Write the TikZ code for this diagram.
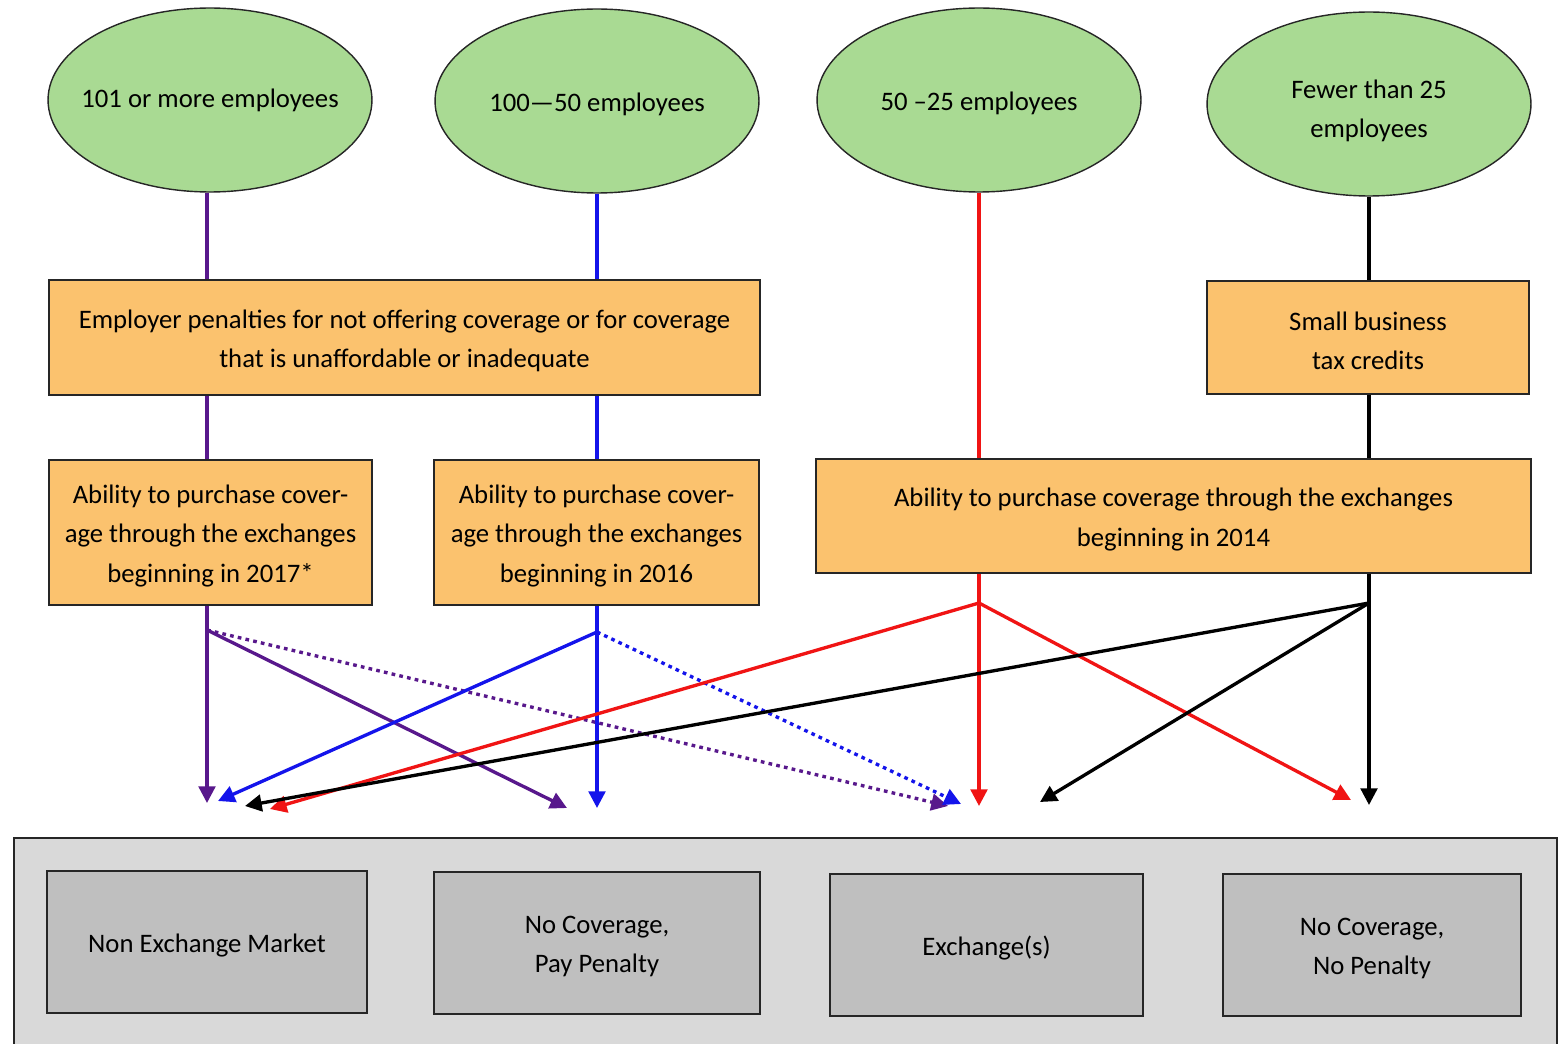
\documentclass[tikz,border=0pt]{standalone}
\usepackage{fontspec}
\setmainfont{Carlito}
\usetikzlibrary{shapes.geometric,arrows.meta}
\definecolor{sizegreen}{RGB}{169,218,147}
\definecolor{ruleorange}{RGB}{251,194,110}
\definecolor{outergray}{RGB}{217,217,217}
\definecolor{innergray}{RGB}{191,191,191}
\definecolor{lgpurple}{RGB}{88,24,140}
\definecolor{lgblue}{RGB}{20,20,235}
\definecolor{lgred}{RGB}{240,20,20}
\tikzset{
  sizeoval/.style={ellipse, draw=black!85, line width=0.8pt, fill=sizegreen,
    minimum width=6.48cm, minimum height=3.68cm, inner sep=0pt},
  rulebox/.style={rectangle, draw=black!85, line width=0.9pt, fill=ruleorange, inner sep=0pt},
  outcomebox/.style={rectangle, draw=black!85, line width=1.1pt, fill=innergray, inner sep=0pt},
  boxtext/.style={inner sep=0pt, align=center, yshift=-0.07cm,
    font=\fontsize{15.2}{22.4}\selectfont},
  flow/.style={line width=1.9pt},
  flowarrow/.style={line width=1.9pt, -{Triangle[length=9.5pt,width=9.5pt]}},
  dotflow/.style={line width=1.9pt, dash pattern=on 2.1pt off 2.4pt, -{Triangle[length=9.5pt,width=9.5pt]}},
}
\begin{document}
\begin{tikzpicture}[x=0.02cm,y=-0.02cm]
\useasboundingbox (0,0) rectangle (1562,1044);
\fill[white] (0,0) rectangle (1562,1044);

% outcome panel (open at the bottom edge)
\fill[outergray] (14,838) rectangle (1557,1044);
\draw[black!85, line width=1.1pt] (14,1044) -- (14,838) -- (1557,838) -- (1557,1044);

% employer size groups
\node[sizeoval] (e1) at (210,100) {};
\node[sizeoval] (e2) at (597,101) {};
\node[sizeoval] (e3) at (979,100) {};
\node[sizeoval] (e4) at (1369,104) {};
\node[boxtext, yshift=0.06cm] (e1t) at (e1) {101 or more employees};
\node[boxtext] (e2t) at (e2) {100---50 employees};
\node[boxtext] (e3t) at (e3) {50 --25 employees};
\node[boxtext, yshift=-0.07cm] (e4t) at (e4) {Fewer than 25\\employees};

% rules
\node[rulebox, minimum width=14.22cm, minimum height=2.30cm] (pen) at (404.5,337.5) {};
\node[boxtext] (pent) at (pen)
  {Employer penalties for not offering coverage or for coverage\\that is unaffordable or inadequate};
\node[rulebox, minimum width=6.44cm, minimum height=2.26cm] (tax) at (1368,337.5) {};
\node[boxtext] (taxt) at (tax) {Small business\\tax credits};
\node[rulebox, minimum width=6.46cm, minimum height=2.90cm] (a1) at (210.5,532.5) {};
\node[boxtext] (a1t) at (a1) {Ability to purchase cover-\\age through the exchanges\\beginning in 2017*};
\node[rulebox, minimum width=6.50cm, minimum height=2.90cm] (a2) at (596.5,532.5) {};
\node[boxtext] (a2t) at (a2) {Ability to purchase cover-\\age through the exchanges\\beginning in 2016};
\node[rulebox, minimum width=14.30cm, minimum height=2.28cm] (a3) at (1173.5,516) {};
\node[boxtext] (a3t) at (a3) {Ability to purchase coverage through the exchanges\\beginning in 2014};

% outcomes
\node[outcomebox, minimum width=6.40cm, minimum height=2.84cm] (o1) at (207,942) {};
\node[boxtext] (o1t) at (o1) {Non Exchange Market};
\node[outcomebox, minimum width=6.52cm, minimum height=2.84cm] (o2) at (597,943) {};
\node[boxtext] (o2t) at (o2) {No Coverage,\\Pay Penalty};
\node[outcomebox, minimum width=6.26cm, minimum height=2.84cm] (o3) at (986.5,945) {};
\node[boxtext] (o3t) at (o3) {Exchange(s)};
\node[outcomebox, minimum width=5.96cm, minimum height=2.84cm] (o4) at (1372,945) {};
\node[boxtext] (o4t) at (o4) {No Coverage,\\No Penalty};

% branch points
\coordinate (b1) at (207,630);
\coordinate (b2) at (597,632);
\coordinate (b3) at (979,603);
\coordinate (b4) at (1369,603);

% arrow ends above the outcome panel
\coordinate (p1) at (207,803);
\coordinate (p2) at (567,808);
\coordinate (p3) at (948,806);
\coordinate (q1) at (597,808);
\coordinate (q2) at (218,801);
\coordinate (q3) at (961,804);
\coordinate (r1) at (979,806);
\coordinate (r2) at (270,809);
\coordinate (r3) at (1351,800);
\coordinate (k1) at (1369,805);
\coordinate (k2) at (245,806);
\coordinate (k3) at (1040,802);

% 101 or more
\draw[flow, lgpurple] (e1.south -| b1) -- (pen.north -| b1);
\draw[flow, lgpurple] (pen.south -| b1) -- (a1.north -| b1);
\draw[flowarrow, lgpurple] (a1.south -| b1) -- (p1);
\draw[flowarrow, lgpurple] (b1) -- (p2);
\draw[dotflow, lgpurple] (b1) -- (p3);

% 100-50
\draw[flow, lgblue] (e2.south -| b2) -- (pen.north -| b2);
\draw[flow, lgblue] (pen.south -| b2) -- (a2.north -| b2);
\draw[flowarrow, lgblue] (a2.south -| b2) -- (q1);
\draw[flowarrow, lgblue] (b2) -- (q2);
\draw[dotflow, lgblue] (b2) -- (q3);

% 50-25
\draw[flow, lgred] (e3.south -| b3) -- (a3.north -| b3);
\draw[flowarrow, lgred] (a3.south -| b3) -- (r1);
\draw[flowarrow, lgred] (b3) -- (r2);
\draw[flowarrow, lgred] (b3) -- (r3);

% fewer than 25
\draw[flow, black] (e4.south -| b4) -- (tax.north -| b4);
\draw[flow, black] (tax.south -| b4) -- (a3.north -| b4);
\draw[flowarrow, black] (a3.south -| b4) -- (k1);
\draw[flowarrow, black] (b4) -- (k2);
\draw[flowarrow, black] (b4) -- (k3);
\end{tikzpicture}
\end{document}
